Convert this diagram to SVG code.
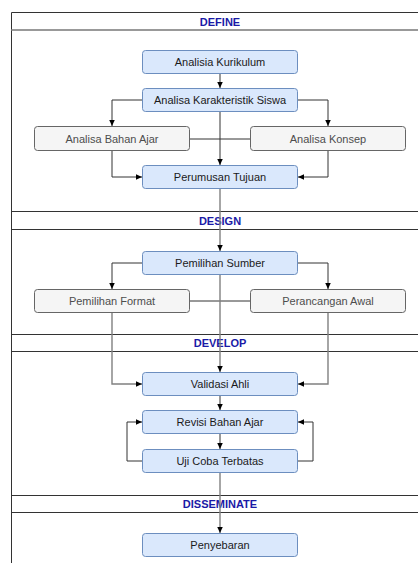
<svg xmlns="http://www.w3.org/2000/svg" width="418" height="563" viewBox="0 0 418 563">
<defs>
<marker id="ah" viewBox="0 0 8 8" refX="7" refY="4" markerWidth="7" markerHeight="7" markerUnits="userSpaceOnUse" orient="auto">
<path d="M0,0.8 L7,4 L0,7.2 Z" fill="#000"/>
</marker>
<style>
.blue rect{fill:#dae8fc;stroke:#6c8ebf;stroke-width:1}
.grey rect{fill:#f5f5f5;stroke:#666666;stroke-width:1}
text{font-family:"Liberation Sans",Arial,sans-serif;font-size:11px;text-anchor:middle;dominant-baseline:central}
.blue text{fill:#1a1a1a}
.grey text{fill:#4d4d4d}
.hdr{font-weight:bold;fill:#1a1aa6}
.c{fill:none;stroke:#333333;stroke-width:1}
.g{fill:none;stroke:#808080;stroke-width:1.4}
.lane{fill:none;stroke:#333333;stroke-width:1}
</style>
</defs>
<g id="lanes">
<path class="lane" d="M11.5,563 V12.5 H418"/>
<path d="M11.5,30 H418" stroke="#999999" stroke-width="1.8" fill="none"/>
<path class="lane" d="M11.5,211.5 H418 M11.5,229.5 H418"/>
<path class="lane" d="M11.5,334.5 H418 M11.5,351.5 H418"/>
<path class="lane" d="M11.5,495.5 H418 M11.5,512.5 H418"/>
<text class="hdr" x="220" y="21.5">DEFINE</text>
<text class="hdr" x="220" y="220.5">DESIGN</text>
<text class="hdr" x="220" y="343">DEVELOP</text>
<text class="hdr" x="220" y="504">DISSEMINATE</text>
</g>
<g id="connectors">
<path class="c" d="M220,73.5 V88" marker-end="url(#ah)"/>
<path class="c" d="M142.5,100 H112 V126" marker-end="url(#ah)"/>
<path class="c" d="M297.5,100 H328 V126" marker-end="url(#ah)"/>
<path class="c" d="M220,111.5 V165" marker-end="url(#ah)"/>
<path class="c" d="M189.5,139 H250.5"/>
<path class="c" d="M112,150.5 V177 H142" marker-end="url(#ah)"/>
<path class="c" d="M328,150.5 V177 H298" marker-end="url(#ah)"/>
<path class="g" d="M220,188.5 V251" marker-end="url(#ah)"/>
<path class="c" d="M142.5,263 H112 V289" marker-end="url(#ah)"/>
<path class="c" d="M297.5,263 H328 V289" marker-end="url(#ah)"/>
<path class="c" d="M189.5,301 H250.5"/>
<path class="g" d="M220,274.5 V372" marker-end="url(#ah)"/>
<path class="g" d="M112,312.5 V384 H142" marker-end="url(#ah)"/>
<path class="g" d="M328,312.5 V384 H298" marker-end="url(#ah)"/>
<path class="c" d="M220,395.5 V410" marker-end="url(#ah)"/>
<path class="c" d="M220,433.5 V449" marker-end="url(#ah)"/>
<path class="c" d="M142.5,461 H127 V422 H142" marker-end="url(#ah)"/>
<path class="c" d="M297.5,461 H313 V422 H298" marker-end="url(#ah)"/>
<path class="g" d="M220,472.5 V533" marker-end="url(#ah)"/>
</g>
<g id="n1" class="blue"><rect x="142.5" y="50.5" width="155" height="23" rx="3"/><text x="220" y="62">Analisia Kurikulum</text></g>
<g id="n2" class="blue"><rect x="142.5" y="88.5" width="155" height="23" rx="3"/><text x="220" y="100">Analisa Karakteristik Siswa</text></g>
<g id="n3" class="grey"><rect x="34.5" y="126.5" width="155" height="24" rx="3"/><text x="112" y="138.5">Analisa Bahan Ajar</text></g>
<g id="n4" class="grey"><rect x="250.5" y="126.5" width="155" height="24" rx="3"/><text x="328" y="138.5">Analisa Konsep</text></g>
<g id="n5" class="blue"><rect x="142.5" y="165.5" width="155" height="23" rx="3"/><text x="220" y="177">Perumusan Tujuan</text></g>
<g id="n6" class="blue"><rect x="142.5" y="251.5" width="155" height="23" rx="3"/><text x="220" y="263">Pemilihan Sumber</text></g>
<g id="n7" class="grey"><rect x="34.5" y="289.5" width="155" height="23" rx="3"/><text x="112" y="301">Pemilihan Format</text></g>
<g id="n8" class="grey"><rect x="250.5" y="289.5" width="155" height="23" rx="3"/><text x="328" y="301">Perancangan Awal</text></g>
<g id="n9" class="blue"><rect x="142.5" y="372.5" width="155" height="23" rx="3"/><text x="220" y="384">Validasi Ahli</text></g>
<g id="n10" class="blue"><rect x="142.5" y="410.5" width="155" height="23" rx="3"/><text x="220" y="422">Revisi Bahan Ajar</text></g>
<g id="n11" class="blue"><rect x="142.5" y="449.5" width="155" height="23" rx="3"/><text x="220" y="461">Uji Coba Terbatas</text></g>
<g id="n12" class="blue"><rect x="142.5" y="533.5" width="155" height="23" rx="3"/><text x="220" y="545">Penyebaran</text></g>
</svg>
